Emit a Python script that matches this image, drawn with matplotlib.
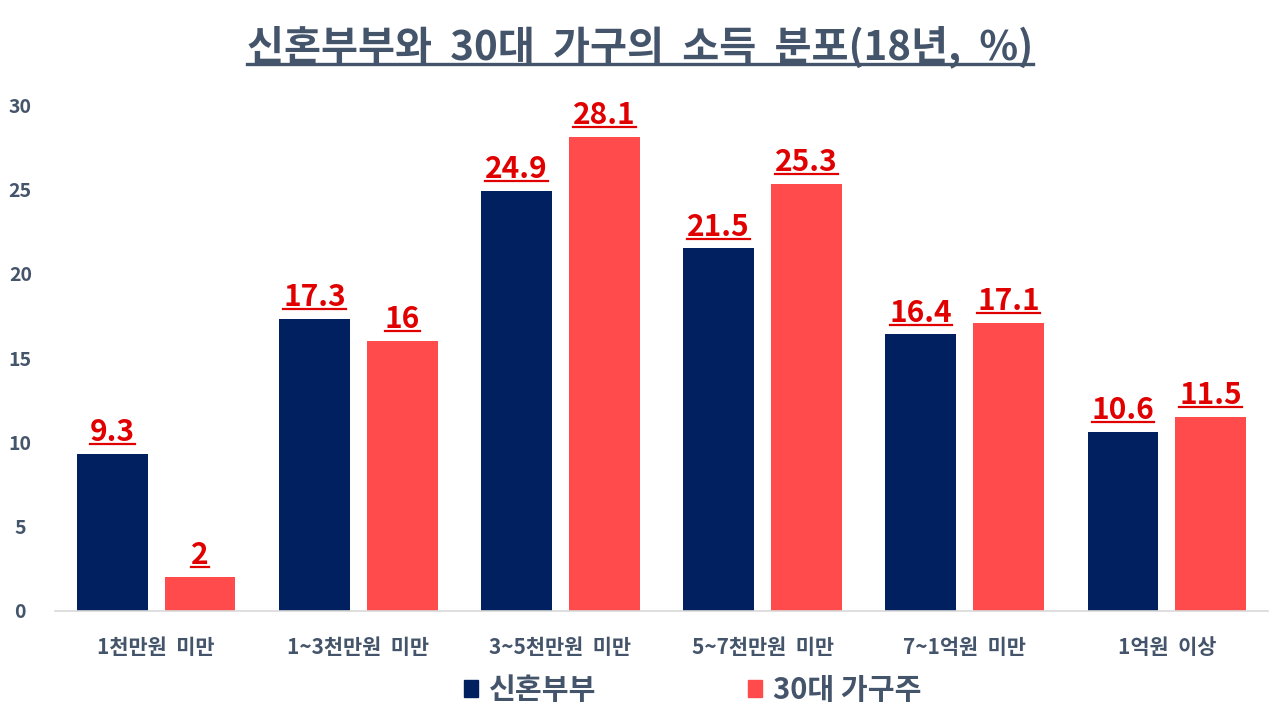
import numpy as np
import matplotlib
matplotlib.use("Agg")
import matplotlib.pyplot as plt
from matplotlib.lines import Line2D
from matplotlib.patches import Patch

plt.rcParams['font.family'] = ['Noto Sans CJK KR', 'DejaVu Sans']

categories = ['1천만원 미만', '1~3천만원 미만', '3~5천만원 미만', '5~7천만원 미만', '7~1억원 미만', '1억원 이상']
newlywed = [9.3, 17.3, 24.9, 21.5, 16.4, 10.6]
thirties = [2, 16, 28.1, 25.3, 17.1, 11.5]
series_names = ['신혼부부', '30대 가구주']
title = '신혼부부와 30대 가구의 소득 분포(18년, %)'

navy = '#002060'
red = '#FF4B4B'
label_red = '#E00000'
text_grey = '#44546A'

fig = plt.figure(figsize=(12.8, 7.2), dpi=100)
ax = fig.add_axes([0.043, 0.1514, 0.9476, 0.7026])

x = np.arange(len(categories))
w = 0.35
off = 0.217
b1 = ax.bar(x - off, newlywed, w, color=navy)
b2 = ax.bar(x + off, thirties, w, color=red)

ax.set_xlim(-0.5, len(categories) - 0.5)
ax.set_ylim(0, 30)
ax.set_yticks(range(0, 31, 5))
ax.set_xticks(x)
# wider word gaps, like the original font
ax.set_xticklabels([c.replace(' ', '  ') for c in categories])
for s in ['top', 'right', 'left']:
    ax.spines[s].set_visible(False)
ax.spines['bottom'].set_color('#D9D9D9')
ax.spines['bottom'].set_linewidth(1.2)
ax.tick_params(axis='both', length=0)
ax.tick_params(axis='y', pad=25, labelsize=14, labelcolor=text_grey)
ax.tick_params(axis='x', pad=19, labelsize=15, labelcolor=text_grey)
for t in ax.get_yticklabels():
    t.set_fontweight('bold')
    t.set_horizontalalignment('center')
for t in ax.get_xticklabels():
    t.set_fontweight('bold')

value_texts = []
for bars, vals in [(b1, newlywed), (b2, thirties)]:
    for rect, v in zip(bars, vals):
        t = ax.annotate(f'{v:g}', (rect.get_x() + rect.get_width() / 2, v),
                        xytext=(0, 5), textcoords='offset points',
                        ha='center', va='bottom', fontsize=21.5,
                        fontweight='bold', color=label_red)
        value_texts.append(t)

tt = fig.text(0.5, 0.935, title.replace(' ', '  '), ha='center', va='center', fontsize=29,
              fontweight='bold', color=text_grey)

handles = [Patch(color=navy), Patch(color=red)]
leg = fig.legend(handles, series_names, loc='center', bbox_to_anchor=(0.541, 0.042),
                 ncol=2, frameon=False, columnspacing=5.2, handlelength=0.5,
                 handleheight=0.5, handletextpad=0.35,
                 prop={'size': 21, 'weight': 'bold'})
for t in leg.get_texts():
    t.set_color(text_grey)

# underline the value labels and the title
fig.canvas.draw()
r = fig.canvas.get_renderer()
for t, lw, col, dy in [(tt, 2.4, text_grey, 4)] + [(v, 1.6, label_red, 3) for v in value_texts]:
    bb = t.get_window_extent(r)
    y = bb.y0 + dy
    fig.add_artist(Line2D([bb.x0 / 1280, bb.x1 / 1280], [y / 720, y / 720],
                          color=col, lw=lw, transform=fig.transFigure))

fig.savefig('out.png', dpi=100)
